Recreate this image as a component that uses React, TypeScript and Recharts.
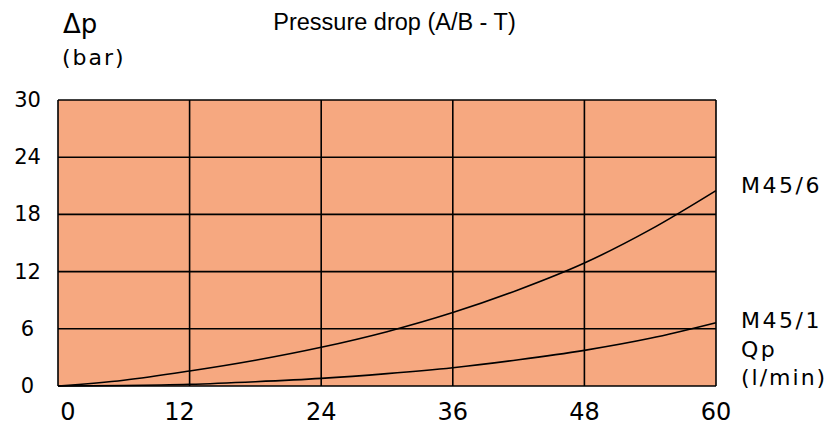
import { CartesianGrid, Line, LineChart, XAxis, YAxis } from "recharts";

// flow Qp (l/min)
const flow = [0, 6, 12, 18, 24, 30, 36, 42, 48, 54, 60];
// pressure drop (bar)
const m456 = [0, 0.6, 1.57, 2.7, 4.06, 5.7, 7.7, 10.1, 12.9, 16.4, 20.5];
const m451 = [0, 0.05, 0.18, 0.45, 0.8, 1.3, 1.92, 2.75, 3.74, 5.0, 6.64];

const xTicks = [0, 12, 24, 36, 48, 60];
const yTicks = [0, 6, 12, 18, 24, 30];

const data = flow.map((q, i) => ({ q, m456: m456[i], m451: m451[i] }));

const labelFont = "'DejaVu Sans', sans-serif";

const XTick = ({ x, y, payload }: any) => {
  const shift = payload.value === 0 ? 10 : payload.value === 12 ? -10 : 0;
  return (
    <text
      x={x + shift}
      y={y + 26}
      textAnchor="middle"
      fontFamily={labelFont}
      fontSize={24}
      fill="#000"
    >
      {payload.value}
    </text>
  );
};

const YTick = ({ y, payload }: any) => (
  <text
    x={27.5}
    y={y}
    textAnchor="middle"
    dominantBaseline="central"
    fontFamily={labelFont}
    fontSize={21}
    fill="#000"
  >
    {payload.value}
  </text>
);

export default function App() {
  return (
    <div style={{ position: "absolute", left: 0, top: 0, width: 836, height: 425, background: "#fff" }}>
      <LineChart
        width={836}
        height={425}
        data={data}
        margin={{ top: 100, right: 120, bottom: 0, left: 0 }}
      >
        <CartesianGrid fill="#F6A880" fillOpacity={1} stroke="#000" strokeWidth={1.6} />
        <XAxis
          dataKey="q"
          type="number"
          domain={[0, 60]}
          ticks={xTicks}
          height={39}
          axisLine={false}
          tickLine={false}
          tick={<XTick />}
          interval={0}
        />
        <YAxis
          type="number"
          domain={[0, 30]}
          ticks={yTicks}
          width={58}
          axisLine={false}
          tickLine={false}
          tick={<YTick />}
          interval={0}
        />
        <Line
          dataKey="m456"
          type="monotone"
          stroke="#000"
          strokeWidth={1.6}
          dot={false}
          isAnimationActive={false}
        />
        <Line
          dataKey="m451"
          type="monotone"
          stroke="#000"
          strokeWidth={1.6}
          dot={false}
          isAnimationActive={false}
        />
      </LineChart>
      <svg
        width={836}
        height={425}
        style={{ position: "absolute", left: 0, top: 0, pointerEvents: "none" }}
      >
        <text x={63} y={33} fontFamily={labelFont} fontSize={26} fill="#000">
          Δp
        </text>
        <text x={62} y={65} fontFamily={labelFont} fontSize={22} letterSpacing={2} fill="#000">
          (bar)
        </text>
        <text
          x={394.5}
          y={30}
          textAnchor="middle"
          fontFamily="'Liberation Sans', Arial, sans-serif"
          fontSize={23.5}
          fill="#000"
        >
          Pressure drop (A/B - T)
        </text>
        <text x={741} y={193} fontFamily={labelFont} fontSize={22} letterSpacing={2.5} fill="#000">
          M45/6
        </text>
        <text x={741} y={328} fontFamily={labelFont} fontSize={22} letterSpacing={2.5} fill="#000">
          M45/1
        </text>
        <text x={741} y={357} fontFamily={labelFont} fontSize={22} letterSpacing={2.5} fill="#000">
          Qp
        </text>
        <text x={741} y={385} fontFamily={labelFont} fontSize={22} letterSpacing={2} fill="#000">
          (l/min)
        </text>
      </svg>
    </div>
  );
}
